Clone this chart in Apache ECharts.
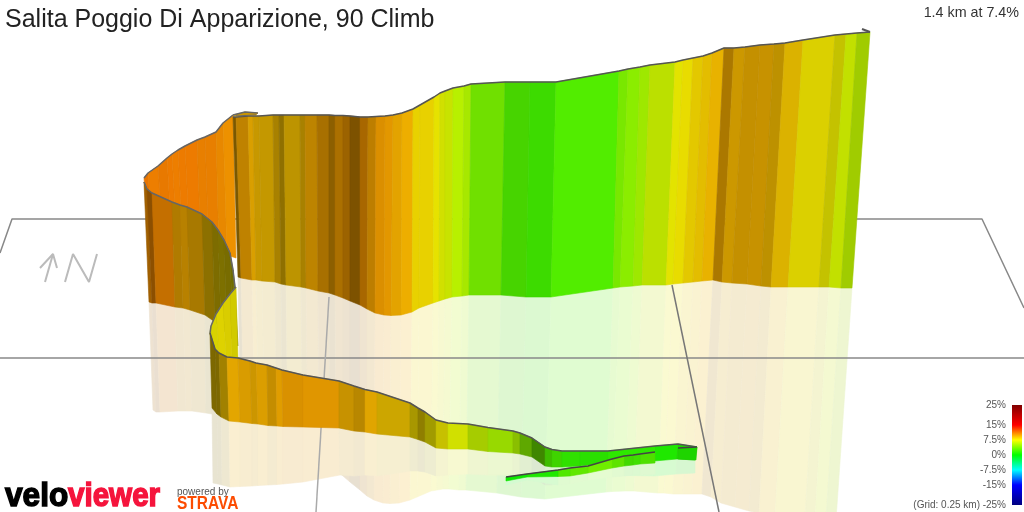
<!DOCTYPE html>
<html>
<head>
<meta charset="utf-8">
<title>Salita Poggio Di Apparizione, 90 Climb</title>
<script src="https://cdn.jsdelivr.net/npm/echarts@6/dist/echarts.min.js"></script>
<style>
  html, body { margin: 0; padding: 0; background: #fff; }
  #chart { width: 1024px; height: 512px; }
</style>
</head>
<body>
<div id="chart"></div>
<script>
// every ribbon: top edge, base edge, mirrored floor edge, then grade (%) and light per strip

// far wall of the climb
const mainTopX = [233,236,248,253,259,273,279,284,300,305,317,329,335,343,350,360,368,376,385,393,402,413,420,434,440,445,453,464,471,505,530,556,619,628,640,650,675,683,693,703,712,724,734,745,760,774,785,803,835,846,857,870]
const mainTopY = [117,117,116,116,116,115,115,115,115,115,115,115,115.5,115.5,116,117,117,116.5,116,115,113,109,105,97,93,91,88,86,84,82,82,82,71,69,67,65,62,60,58,56,53,48,48,47,45,44,43,40,35,34,33,32]
const mainBaseX = [238,241,252,256,262,275,281,286,301,306,318,329,335,343,350,360,367,375,384,391,401,412,419,433,439,445,452,462,469,501,526,551,613,620,633,642,666,673,683,693,702,713,722,732,747,761,771,788,819,829,841,852]
const mainBaseY = [277,278,280,280,281,282,284,285,287,288,291,293,295,298,301,305,309,313,315,315.5,315,312,308,303,301,299,297,296,295,295,297,297,288,287,286,285,285,284,283,282,281,280,282,283,284,286,287,287,287,287,288,288]
const mainFloorX = [241,244,255,259,265,277,283,288,303,308,319,330,336,343,350,360,367,374,383,390,399,410,417,431,437,443,449,459,466,497,521,545,606,612,625,634,658,664,673,683,692,702,711,721,735,749,759,775,805,815,826,836]
const mainFloorY = [436,437,441,441,443,446,449,451,454,456,461,466,470,476,482,490,496,500,503,503.5,503,500,497,491,490,489,489,490,490,493,497,499,492,491.5,491,491,493,493,494,494,494,494,497,503,507,511,513,516,518,518,519,520]
const mainGrade = [9.6,9.9,9.5,9.25,9.2,9.25,9.1,9.1,9.25,9.75,10,9.9,10.1,10.25,10.1,10.4,10,10.1,10,9.6,9.5,8.25,8.25,7.6,7,6.6,5.75,5.4,3.75,2.5,2.1,2.6,3.9,4.4,5.1,6.25,7.5,7.9,8.4,8.75,9.25,9.75,9.4,9.5,9.5,9.25,8.9,7.9,7.6,6.5,5.9]
const mainLight = [.48,.75,.85,.78,.77,.66,.56,.74,.66,.74,.66,.55,.67,.61,.49,.66,.74,.86,.89,.89,.93,.91,.91,.9,.88,.89,.94,.91,.88,.83,.86,.93,.91,.93,.91,.88,.89,.91,.89,.89,.91,.67,.8,.77,.78,.74,.86,.86,.77,.88,.8]

// orange inner face at the top left
const innerTopX = [144,148,158,167,172,178,185,197,205,216,223,233]
const innerTopY = [178,173,166,158,154,150,146,140,137,132,123,115]
const innerBaseX = [149,153,163,172,177,183,190,201,209,219,227,236]
const innerBaseY = [240,241,243,244,245,246,247,249,251,253,255,258]
const innerGrade = [11.25,11,11.1,11.1,11,11.1,11.1,10.9,10.9,10.6,10.4]
const innerLight = [.91,.93,.91,.93,.93,.93,.93,.91,.91,.91,.93]

// small hairpin at the top of the bend
const hairpinTopX = [233,245,258]
const hairpinTopY = [115,112,113]
const hairpinBaseX = [236,245,256]
const hairpinBaseY = [116,115.5,115]
const hairpinGrade = [9.5,9.5]
const hairpinLight = [.8,.8]

// brown wall in front of the inner face
const leftTopX = [144,147,152,172,180,187,202,212,218,224,230,233,235]
const leftTopY = [182,189,193,202,205,207,214,222,230,240,253,270,287]
const leftBaseX = [149,152,156,175,183,190,205,215,221,227,233,236,238]
const leftBaseY = [302,303,303,307,308,310,315,322,328,334,340,344,346]
const leftFloorX = [153,156,160,178,186,192,206,212]
const leftFloorY = [410,412,412,411,411,411,413,414]
const leftGrade = [10.5,10.75,10.75,9.75,9.75,9.6,9,8.5,8.25,8.25,7.75,7.75]
const leftLight = [.63,.55,.77,.69,.72,.66,.55,.49,.49,.47,.44,.44]

// yellow inner side of the S bend
const bendTopX = [236,230,223,216,211,210]
const bendTopY = [287,294,303,314,326,333]
const bendBaseX = [238,232,226,219,213,212]
const bendBaseY = [360,358,358,355,350,345]
const bendGrade = [7.75,7.9,7.9,7.75,7.5]
const bendLight = [.82,.85,.87,.85,.8]

// lower leg running to the right
const lowerTopX = [210,215,219,227,238,250,256,267,276,282,303,339,354,365,377,410,418,425,436,448,468,488,513,520,532,545,552,562,580,608,655,678,697]
const lowerTopY = [333,349,353,357,358,361,363,365,368,370,375,381,386,389.5,392,403,408,412,420,423,424,427.5,431,433,438,447,449.5,451,451,451,446,444,447]
const lowerBaseX = [212,217,221,229,240,252,258,268,277,283,303,339,354,365,377,410,418,425,436,448,468,488,513,520,532,545,552,562,580,608,654,677,695]
const lowerBaseY = [408,414,417,421,422,423.5,424,425.5,426,426.5,427,428,431,432,434,437,439.5,442,448,449,449,451.5,453,454,457,466,467,467,466,463,461,459,460]
const lowerFloorX = [213,218,222,230,240,252,258,268,277,283,303,340,354,365,377,410,418,425,436,448,468,488,513,520,532,545,552,562,580,608,654,676,695]
const lowerFloorY = [483,484,485,487,486.5,486,485.5,485,484.5,484,482,475,476,475,476,471,471,472,476,475,474,475,475,475,476,485,485,483,481,475,476,474,473]
const lowerGrade = [8.75,8.75,9,9.5,9.6,9.5,9.6,9.6,9.75,10,10,9.5,9.5,9.5,8.9,8.25,8.4,7.75,7.75,7,6.1,5.25,5.4,4.25,3.5,2.5,2.25,1.6,1.4,1.5,1,1.1]
const lowerLight = [.49,.49,.63,.89,.85,.8,.86,.77,.88,.85,.88,.78,.72,.88,.8,.66,.56,.63,.78,.88,.8,.85,.75,.66,.53,.74,.83,.88,.88,.91,.91,.83]

// short return piece at the far end of the lower leg
const stubTopX = [678,697]
const stubTopY = [448,447]
const stubBaseX = [678,696]
const stubBaseY = [459,460]
const stubGrade = [1.1]
const stubLight = [.83]

// last bit, back towards the left
const tailTopX = [655,640,633,624,612,588,570,558,527,506]
const tailTopY = [452,454,455,456,459,466,468,470,474,477]
const tailBaseX = [655,640,633,624,612,588,570,558,527,506]
const tailBaseY = [463,464,465,466,468,473,476,476.5,477,481]
const tailFloorY = [474,475,475,476,477,480,484,485,480,485]
const tailGrade = [2.6,2.1,2.25,3.1,3.5,3.1,2.6,1,.5]
const tailLight = [.88,.88,.85,.89,.93,.91,.91,.91,.91]

// ground plane and grid
const planeBack = [[0,253],[12,219],[982,219],[1024,308]]
const planeFront = [[0,358],[1024,358]]
const gridLeft = [[329,297],[316,512]]
const gridRight = [[672,285],[719,512]]
const finishMark = [[862,29],[870,32]]
const northArrow = [[45,282],[53,254]]
const northHead = [[40,268],[53,254],[57,268]]
const northN = [[65,282],[73,254],[89,282],[97,254]]

// legend
const legendGrades = [25,15,7.5,0,-7.5,-15,-25]
const legendColours = ['#800000','#ff0000','#ffff00','#00ff00','#00ffff','#0000ff','#000080']

// wash is how far the colour is faded towards white, the reflection uses it
function gradeColour(grade, light, wash) {
  // 0% green, 7.5% yellow, 15% red
  const hue = 120 - 8 * grade
  const f = hue / 60
  const i = Math.floor(f)
  const t = f - i
  const rgb = i >= 1 ? [1 - t, 1, 0] : [1, t, 0]
  const [r, g, b] = rgb.map(v => Math.round(255 - wash * (255 - v * light * 255)))
  return `rgb(${r},${g},${b})`
}

function strips(topX, topY, botX, botY, grade, light) {
  const rows = []
  for (let i = 0; i < botX.length - 1; i++) {
    rows.push([topX[i], topY[i], topX[i + 1], topY[i + 1], botX[i + 1], botY[i + 1], botX[i], botY[i], grade[i], light[i]])
  }
  return rows
}

function ribbon(rows, wash, seam) {
  return {
    type: 'custom',
    silent: true,
    data: rows,
    encode: { x: [0, 2, 4, 6], y: [1, 3, 5, 7] },
    renderItem: (params, api) => {
      const pts = [0, 2, 4, 6].map(d => api.coord([api.value(d), api.value(d + 1)]))
      const grade = api.value(8)
      const light = api.value(9)
      return {
        type: 'polygon',
        shape: { points: pts },
        style: {
          fill: gradeColour(grade, light, wash),
          stroke: gradeColour(grade, light * seam, wash),
          lineWidth: 0.6
        }
      }
    }
  }
}

function polyline(points, color, width) {
  return {
    type: 'line',
    silent: true,
    data: points,
    showSymbol: false,
    symbol: 'none',
    lineStyle: { color: color, width: width }
  }
}

function zip(xs, ys) {
  return xs.map((x, i) => [x, ys[i]])
}

const REFLECT = 0.18

const series = [
  ribbon(strips(mainBaseX, mainBaseY, mainFloorX, mainFloorY, mainGrade, mainLight), REFLECT, 0.97),
  ribbon(strips(leftBaseX, leftBaseY, leftFloorX, leftFloorY, leftGrade, leftLight), REFLECT, 0.97),
  ribbon(strips(lowerBaseX, lowerBaseY, lowerFloorX, lowerFloorY, lowerGrade, lowerLight), REFLECT, 0.97),
  ribbon(strips(tailBaseX, tailBaseY, tailBaseX, tailFloorY, tailGrade, tailLight), REFLECT, 0.97),

  polyline(planeBack, '#888', 1.5),
  polyline(planeFront, '#888', 1.5),
  polyline(gridLeft, '#aaa', 1.5),
  polyline(gridRight, '#777', 1.5),
  polyline(northArrow, '#bbb', 2),
  polyline(northHead, '#bbb', 2),
  polyline(northN, '#bbb', 2),

  ribbon(strips(innerTopX, innerTopY, innerBaseX, innerBaseY, innerGrade, innerLight), 1, 0.97),
  polyline(zip(innerTopX, innerTopY), '#666', 1.5),
  ribbon(strips(mainTopX, mainTopY, mainBaseX, mainBaseY, mainGrade, mainLight), 1, 0.97),
  polyline(zip(mainTopX, mainTopY), '#555', 1.5),
  polyline(finishMark, '#555', 2),
  ribbon(strips(hairpinTopX, hairpinTopY, hairpinBaseX, hairpinBaseY, hairpinGrade, hairpinLight), 1, 0.97),
  polyline(zip(hairpinTopX, hairpinTopY), '#666', 1.5),
  polyline(zip(hairpinBaseX, hairpinBaseY), '#666', 1),
  ribbon(strips(leftTopX, leftTopY, leftBaseX, leftBaseY, leftGrade, leftLight), 1, 0.97),
  polyline(zip(leftTopX, leftTopY), '#666', 1.5),
  ribbon(strips(bendTopX, bendTopY, bendBaseX, bendBaseY, bendGrade, bendLight), 1, 0.97),
  polyline(zip(bendTopX, bendTopY), '#666', 1.5),
  ribbon(strips(lowerTopX, lowerTopY, lowerBaseX, lowerBaseY, lowerGrade, lowerLight), 1, 0.97),
  polyline(zip(lowerTopX, lowerTopY), '#555', 1.5),
  ribbon(strips(stubTopX, stubTopY, stubBaseX, stubBaseY, stubGrade, stubLight), 1, 0.97),
  polyline(zip(stubTopX, stubTopY), '#444', 1.5),
  ribbon(strips(tailTopX, tailTopY, tailBaseX, tailBaseY, tailGrade, tailLight), 1, 0.97),
  polyline(zip(tailTopX, tailTopY), '#444', 1.5)
]

// colour bar, sits on the legend axis
series.push({
  type: 'custom',
  silent: true,
  xAxisIndex: 1,
  yAxisIndex: 1,
  data: legendGrades.slice(0, -1).map((g, i) => [0, g, legendGrades[i + 1], i]),
  encode: { x: 0, y: [1, 2] },
  renderItem: (params, api) => {
    const top = api.coord([0, api.value(1)])
    const bot = api.coord([1, api.value(2)])
    const i = api.value(3)
    return {
      type: 'rect',
      shape: { x: top[0], y: top[1], width: bot[0] - top[0], height: bot[1] - top[1] },
      style: {
        fill: new echarts.graphic.LinearGradient(0, 0, 0, 1, [
          { offset: 0, color: legendColours[i] },
          { offset: 1, color: legendColours[i + 1] }
        ])
      }
    }
  }
})

const chart = echarts.init(document.getElementById('chart'))
chart.setOption({
  animation: false,
  backgroundColor: '#fff',
  grid: [
    { left: 0, top: 0, width: 1024, height: 512 },
    { left: 1012, top: 405, width: 10, height: 100 }
  ],
  xAxis: [
    { type: 'value', min: 0, max: 1024, show: false },
    { type: 'value', min: 0, max: 1, show: false, gridIndex: 1 }
  ],
  yAxis: [
    { type: 'value', min: 0, max: 512, inverse: true, show: false },
    {
      type: 'value',
      gridIndex: 1,
      min: -25,
      max: 25,
      axisLine: { show: false },
      axisTick: { show: false },
      splitLine: { show: false },
      axisLabel: {
        customValues: legendGrades,
        formatter: v => v + '%',
        color: '#555',
        fontFamily: 'Liberation Sans',
        fontSize: 10,
        margin: 6
      }
    }
  ],
  graphic: [
    { type: 'text', x: 5, y: 20, style: { text: 'Salita Poggio Di Apparizione, 90 Climb', font: '25px "Liberation Sans"', fill: '#222', verticalAlign: 'middle' } },
    { type: 'text', x: 1019, y: 13, style: { text: '1.4 km at 7.4%', font: '14.3px "Liberation Sans"', fill: '#333', align: 'right', verticalAlign: 'middle' } },
    { type: 'text', x: 980, y: 505, style: { text: '(Grid: 0.25 km)', font: '10px "Liberation Sans"', fill: '#555', align: 'right', verticalAlign: 'middle' } },
    { type: 'text', x: 5, y: 497, scaleX: 0.93, style: { text: 'velo', font: 'bold 34px "Liberation Sans"', fill: '#000', stroke: '#000', lineWidth: 1.5, verticalAlign: 'middle' } },
    { type: 'text', x: 68, y: 497, scaleX: 0.87, style: { text: 'viewer', font: 'bold 34px "Liberation Sans"', fill: '#f5143c', stroke: '#f5143c', lineWidth: 1.5, verticalAlign: 'middle' } },
    { type: 'text', x: 177, y: 492, style: { text: 'powered by', font: '10px "Liberation Sans"', fill: '#555', verticalAlign: 'middle' } },
    { type: 'text', x: 177, y: 504, scaleX: 0.86, style: { text: 'STRAVA', font: 'bold 18px "Liberation Sans"', fill: '#fc4c02', verticalAlign: 'middle' } }
  ],
  series: series.map((s, i) => Object.assign({ z: 2 + i * 0.01 }, s))
})
</script>
</body>
</html>
